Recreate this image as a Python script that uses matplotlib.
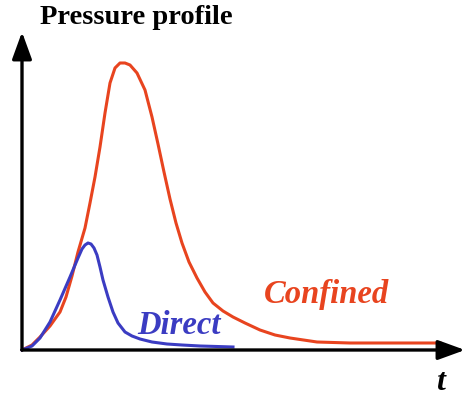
import matplotlib
matplotlib.use("Agg")
import matplotlib.pyplot as plt

# pressure profiles (arbitrary units)
t_confined = [0, 10, 18, 28, 38, 44, 50, 56, 63, 68, 73, 78, 83, 88, 93, 98, 103, 108,
              115, 123, 130, 136, 142, 148, 154, 160, 167, 175, 183, 191, 201, 211, 223,
              238, 253, 268, 295, 328, 378, 418]
p_confined = [0, 5, 13, 24, 38, 53, 74, 98, 122, 147, 173, 203, 237, 267, 282, 287, 287, 285,
              277, 260, 233, 206, 178, 151, 127, 107, 88, 72, 58, 47, 39, 33, 27,
              20, 15, 12, 8, 7, 7, 7]

t_direct = [0, 10, 18, 28, 38, 48, 56, 60, 63, 66, 69, 72, 75, 78, 81, 86, 91, 96, 103, 110,
            118, 130, 145, 160, 178, 195, 211]
p_direct = [0, 4, 12, 28, 50, 73, 92, 101, 105, 107, 106, 102, 95, 83, 70, 53, 38, 27, 18, 14,
            11, 8, 6, 5, 4, 3.5, 3]

red = "#e8441f"
blue = "#3b3cc2"
serif = ["Liberation Serif", "DejaVu Serif"]

fig = plt.figure(figsize=(4.66, 4.0), dpi=100)
ax = fig.add_axes([22 / 466, 50 / 400, 444 / 466, 320 / 400])
ax.set_xlim(0, 444)
ax.set_ylim(0, 320)
ax.axis("off")

ax.plot(t_confined, p_confined, color=red, lw=2.2, solid_joinstyle="round", clip_on=False)
ax.plot(t_direct, p_direct, color=blue, lw=2.2, solid_joinstyle="round", clip_on=False)

# axes with arrow heads
arrow = dict(arrowstyle="-|>,head_length=1.1,head_width=0.4", mutation_scale=15,
             color="black", lw=2.4, shrinkA=0, shrinkB=0)
ax.annotate("", xy=(0, 318), xytext=(0, 0), arrowprops=arrow, annotation_clip=False)
ax.annotate("", xy=(443, 0), xytext=(0, 0), arrowprops=arrow, annotation_clip=False)

ax.text(305, 55, "Confined", color=red, fontsize=23.5, fontweight="bold", style="italic",
        family=serif, ha="center", va="center")
ax.text(157, 25, "Direct", color=blue, fontsize=23.5, fontweight="bold", style="italic",
        family=serif, ha="center", va="center")
ax.text(418, -32, "t", color="black", fontsize=23, fontweight="bold", style="italic",
        family=serif, ha="center", va="center", clip_on=False)
fig.text(40 / 466, 1 - 18 / 400, "Pressure profile", fontsize=20.5, fontweight="bold",
         family=serif, ha="left", va="center")

fig.savefig("out.png", dpi=100)
